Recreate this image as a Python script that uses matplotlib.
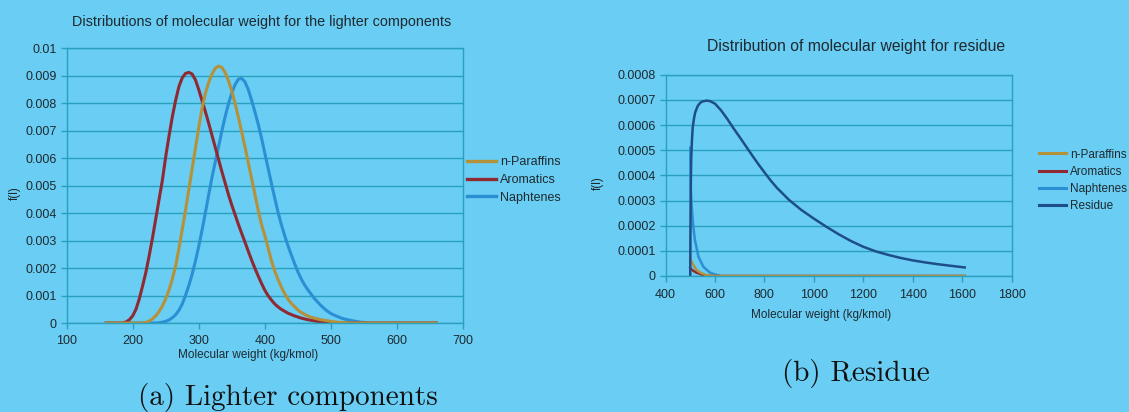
import numpy as np
import matplotlib
matplotlib.use('Agg')
import matplotlib.pyplot as plt
from matplotlib.ticker import MultipleLocator, FuncFormatter
from matplotlib.lines import Line2D

# lighter components, f(l) in units of 1e-3, sampled every 5 kg/kmol from 160 to 660
mw_light = np.arange(160, 665, 5)
f_paraffins = [0] * 12 + [
    0.02, 0.07, 0.15, 0.26, 0.42, 0.62, 0.88, 1.2, 1.6, 2.07,
    2.7, 3.4, 4.1, 4.85, 5.6, 6.35, 7.1, 7.8, 8.35, 8.75,
    9.05, 9.27, 9.35, 9.3, 9.12, 8.82, 8.45, 8.0, 7.5, 6.97,
    6.42, 5.85, 5.28, 4.7, 4.12, 3.6, 3.2, 2.75, 2.28, 1.9,
    1.6, 1.32, 1.08, 0.88, 0.72, 0.6, 0.48, 0.39, 0.32, 0.26,
    0.21, 0.18, 0.15, 0.12, 0.1, 0.08, 0.06, 0.045, 0.03, 0.02,
    0.01, 0.005] + [0] * 27
f_aromatics = [0] * 6 + [
    0.04, 0.12, 0.26, 0.5, 0.88, 1.35, 1.85, 2.45, 3.1, 3.8,
    4.5, 5.2, 6.05, 6.8, 7.5, 8.1, 8.6, 8.92, 9.08, 9.12,
    9.06, 8.85, 8.5, 8.1, 7.7, 7.28, 6.84, 6.4, 5.96, 5.52,
    5.1, 4.68, 4.3, 3.95, 3.6, 3.27, 2.95, 2.62, 2.3, 2.0,
    1.72, 1.45, 1.2, 1.0, 0.84, 0.7, 0.59, 0.5, 0.43, 0.36,
    0.31, 0.26, 0.22, 0.18, 0.15, 0.12, 0.1, 0.08, 0.06, 0.05,
    0.04, 0.03, 0.02, 0.01] + [0] * 31
f_naphtenes = [0] * 16 + [
    0.01, 0.03, 0.06, 0.11, 0.19, 0.3, 0.46, 0.69, 1.0, 1.36,
    1.77, 2.25, 2.78, 3.37, 4.0, 4.65, 5.28, 5.85, 6.4, 6.98,
    7.5, 7.97, 8.36, 8.67, 8.87, 8.9, 8.78, 8.5, 8.12, 7.7,
    7.25, 6.75, 6.2, 5.65, 5.1, 4.57, 4.05, 3.6, 3.2, 2.83,
    2.5, 2.18, 1.88, 1.62, 1.4, 1.22, 1.06, 0.9, 0.77, 0.64,
    0.53, 0.43, 0.35, 0.29, 0.24, 0.19, 0.15, 0.12, 0.1, 0.07,
    0.05, 0.03, 0.02, 0.01] + [0] * 21

# residue fraction, f(l) in units of 1e-4
mw_res = [500, 501, 502, 504, 507, 510, 515, 520, 530, 540, 550, 567, 580, 600, 625, 650,
          675, 700, 725, 750, 775, 800, 825, 850, 900, 950, 1000, 1050, 1100, 1150,
          1200, 1250, 1300, 1350, 1400, 1450, 1500, 1550, 1610]
f_residue = [0, 2.0, 3.4, 4.7, 5.4, 5.9, 6.25, 6.5, 6.75, 6.88, 6.94, 6.97, 6.95, 6.85, 6.58, 6.24,
             5.87, 5.52, 5.16, 4.8, 4.45, 4.12, 3.8, 3.51, 3.02, 2.62, 2.28, 1.96, 1.66, 1.39,
             1.16, 0.98, 0.84, 0.72, 0.62, 0.54, 0.47, 0.41, 0.34]
mw_res_light = [500, 503, 512, 526, 533, 546, 553, 566, 580, 607, 620, 800, 1000, 1200, 1400, 1610]
f_res_paraffins = [0.68, 0.62, 0.44, 0.24, 0.18, 0.11, 0.08, 0.03, 0.01, 0, 0, 0, 0, 0, 0, 0]
f_res_aromatics = [0.32, 0.28, 0.21, 0.13, 0.11, 0.06, 0.04, 0.01, 0, 0, 0, 0, 0, 0, 0, 0]
mw_res_naph = [500, 502, 505, 512, 519, 533, 553, 580, 607, 615]
f_res_naphtenes = [5.1, 3.6, 2.9, 2.0, 1.43, 0.77, 0.37, 0.13, 0.04, 0.02]

bg = '#69cdf4'
grid_c = '#2aa0bf'
txt_c = '#1e2a30'
c_par = '#b5913a'
c_aro = '#8f2a33'
c_nap = '#2b8fd3'
c_res = '#1d4e89'

plt.rcParams['font.family'] = ['Liberation Sans', 'DejaVu Sans']

fig = plt.figure(figsize=(11.29, 4.12), dpi=100, facecolor=bg)
W, H = 1129.0, 412.0


def box(l, t, r, b):
    return [l / W, 1 - b / H, (r - l) / W, (b - t) / H]


def style_axes(ax):
    ax.set_facecolor(bg)
    for s in ax.spines.values():
        s.set_color(grid_c)
        s.set_linewidth(1.0)
    ax.grid(True, axis='y', color=grid_c, linewidth=1.0)
    ax.set_axisbelow(True)
    ax.tick_params(direction='out', length=4, width=1.0, color=grid_c,
                   labelcolor=txt_c, labelsize=9, pad=3)
    ax.yaxis.set_major_formatter(FuncFormatter(lambda v, p: '%g' % round(v, 6)))


# left panel
ax1 = fig.add_axes(box(66.7, 48.2, 462.7, 323))
style_axes(ax1)
ax1.plot(mw_light, np.array(f_naphtenes) * 1e-3, color=c_nap, lw=2.2)
ax1.plot(mw_light, np.array(f_aromatics) * 1e-3, color=c_aro, lw=2.2)
ax1.plot(mw_light, np.array(f_paraffins) * 1e-3, color=c_par, lw=2.2)
ax1.set_xlim(100, 700)
ax1.set_ylim(0, 0.01)
ax1.xaxis.set_major_locator(MultipleLocator(100))
ax1.yaxis.set_major_locator(MultipleLocator(0.001))
ax1.tick_params(axis='x', pad=5)

h1 = [Line2D([], [], color=c, lw=2.4) for c in (c_par, c_aro, c_nap)]
ax1.legend(h1, ['n-Paraffins', 'Aromatics', 'Naphtenes'], loc='center left',
           bbox_to_anchor=(466.7 / W, 1 - 180 / H), bbox_transform=fig.transFigure,
           frameon=False, fontsize=9, handlelength=2.35, handletextpad=0.3,
           labelspacing=0.45, borderpad=0, borderaxespad=0, labelcolor=txt_c)

fig.text(262 / W, 1 - 22 / H, 'Distributions of molecular weight for the lighter components',
         ha='center', va='center', fontsize=10.4, color=txt_c)
fig.text(248 / W, 1 - 355 / H, 'Molecular weight (kg/kmol)', ha='center', va='center',
         fontsize=8.5, color=txt_c)
fig.text(15 / W, 1 - 193 / H, 'f(l)', ha='center', va='center', rotation=90,
         fontsize=8.5, color=txt_c)

# right panel
ax2 = fig.add_axes(box(665.5, 74.7, 1011.7, 276))
style_axes(ax2)
ax2.plot(mw_res_naph, np.array(f_res_naphtenes) * 1e-4, color=c_nap, lw=1.8)
ax2.plot(mw_res_light, np.array(f_res_aromatics) * 1e-4, color=c_aro, lw=1.8)
ax2.plot(mw_res_light, np.array(f_res_paraffins) * 1e-4, color=c_par, lw=1.8)
ax2.plot(mw_res, np.array(f_residue) * 1e-4, color=c_res, lw=1.8)
ax2.set_xlim(400, 1800)
ax2.set_ylim(0, 0.0008)
ax2.xaxis.set_major_locator(MultipleLocator(200))
ax2.yaxis.set_major_locator(MultipleLocator(0.0001))
ax2.tick_params(axis='x', pad=5)

h2 = [Line2D([], [], color=c, lw=2.2) for c in (c_par, c_aro, c_nap, c_res)]
ax2.legend(h2, ['n-Paraffins', 'Aromatics', 'Naphtenes', 'Residue'], loc='center left',
           bbox_to_anchor=(1039 / W, 1 - 180.5 / H), bbox_transform=fig.transFigure,
           frameon=False, fontsize=8.5, handlelength=2.3, handletextpad=0.3,
           labelspacing=0.45, borderpad=0, borderaxespad=0, labelcolor=txt_c)

fig.text(856 / W, 1 - 46.7 / H, 'Distribution of molecular weight for residue',
         ha='center', va='center', fontsize=11.3, color=txt_c)
fig.text(821.5 / W, 1 - 315 / H, 'Molecular weight (kg/kmol)', ha='center', va='center',
         fontsize=8.5, color=txt_c)
fig.text(598 / W, 1 - 183 / H, 'f(l)', ha='center', va='center', rotation=90,
         fontsize=8.5, color=txt_c)

# subfigure captions
fig.text(288 / W, 1 - 397 / H, '(a) Lighter components', ha='center', va='center',
         fontsize=21, family='cmr10', color='#111111')
fig.text(855.5 / W, 1 - 373 / H, '(b) Residue', ha='center', va='center',
         fontsize=21, family='cmr10', color='#111111')

fig.savefig('out.png', dpi=100, facecolor=bg)
